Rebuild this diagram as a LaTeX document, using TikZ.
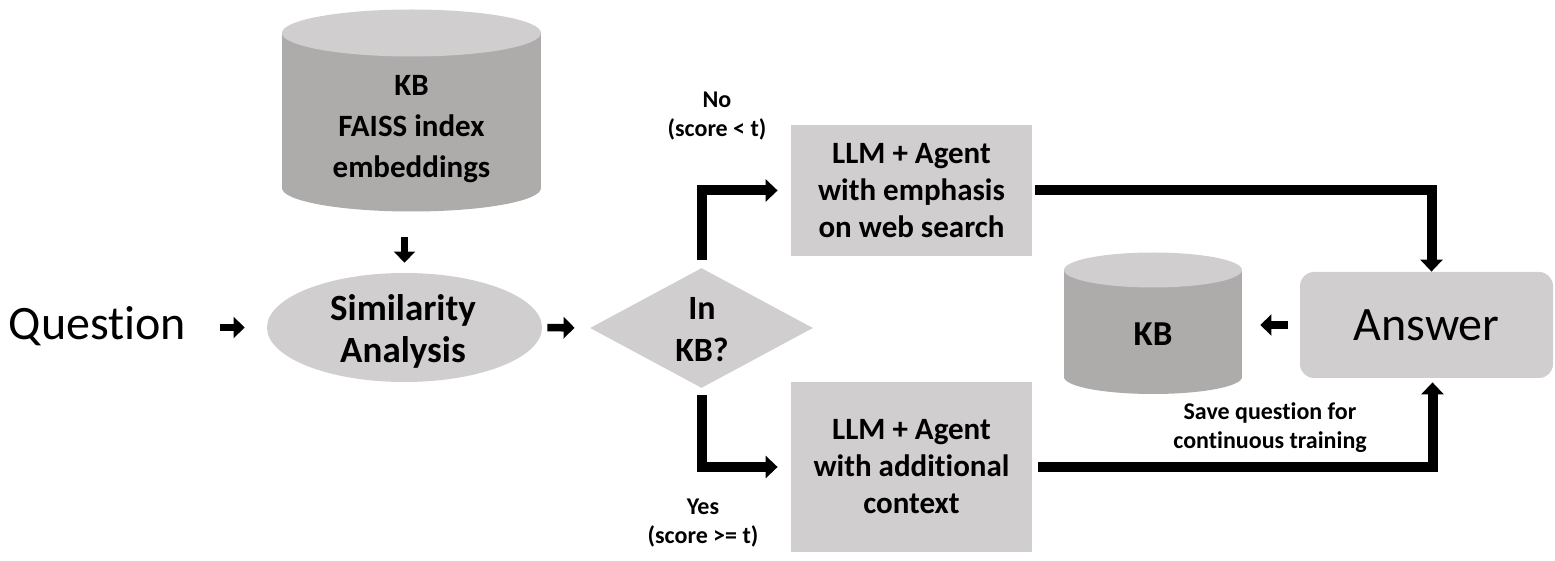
\documentclass[tikz,border=0pt]{standalone}
\usepackage{fontspec}
\setmainfont{Carlito}[Ligatures=NoCommon]
\usetikzlibrary{arrows.meta,shapes.geometric,calc}
\definecolor{boxgray}{RGB}{208,206,206}
\definecolor{cylside}{RGB}{174,171,171}
\begin{document}
\begin{tikzpicture}[x=0.5pt,y=-0.5pt,
  boxs/.style={fill=boxgray, inner sep=0},
  txt/.style={inner sep=0, align=center, font=\bfseries\fontsize{15.5}{18.5}\selectfont},
  conn/.style={line width=5pt, line join=miter, -{Triangle[width=11pt,length=6pt]}},
  blk/.style={line width=3.8pt, -{Triangle[width=10.5pt,length=5.5pt]}},
  lbl/.style={inner sep=0, align=center, font=\bfseries\fontsize{12}{14.5}\selectfont},
  big/.style={inner sep=0, font=\fontsize{24}{28}\selectfont}]

\useasboundingbox (0,0) rectangle (1555,561);

% knowledge base cylinder (top)
\fill[cylside] (411.5,188) ellipse [x radius=129.5, y radius=23.5];
\fill[cylside] (282,33) rectangle (541,188);
\fill[boxgray] (411.5,33) ellipse [x radius=129.5, y radius=23.5];
\node[inner sep=0, minimum width=129.5pt, minimum height=101.5pt] (kb1) at (411.5,109.5) {};
\node[txt, font=\bfseries\fontsize{15.5}{20.5}\selectfont] (kb1t) at (411.5,129) {KB\\FAISS index\\embeddings};

% question
\node[big] (q) at (97.5,326) {Question};

% similarity ellipse
\node[ellipse, fill=boxgray, inner sep=0, minimum width=137.5pt, minimum height=54.5pt] (sim) at (404.5,327.5) {};
\node[txt, font=\bfseries\fontsize{18.5}{21}\selectfont] (simt) at (403,331) {Similarity\\Analysis};

% decision
\node[diamond, fill=boxgray, inner sep=0, minimum width=111.5pt, minimum height=60pt] (dec) at (701.5,328) {};
\node[txt, font=\bfseries\fontsize{17}{21}\selectfont] (dect) at (702,330) {In\\KB?};

% LLM boxes
\node[boxs, txt, minimum width=120.5pt, minimum height=65.5pt] (b1) at (911.5,190.5) {LLM + Agent\\with emphasis\\on web search};
\node[boxs, txt, minimum width=120.5pt, minimum height=85pt] (b2) at (911.5,467) {LLM + Agent\\with additional\\context};

% answer
\node[fill=boxgray, rounded corners=7pt, inner sep=0, minimum width=126.5pt, minimum height=53pt, font=\fontsize{24}{28}\selectfont] (ans) at (1426.5,325) {Answer};

% knowledge base cylinder (right)
\fill[cylside] (1153,377) ellipse [x radius=89, y radius=17];
\fill[cylside] (1064,270) rectangle (1242,377);
\fill[boxgray] (1153,270) ellipse [x radius=89, y radius=17.5];
\node[inner sep=0, minimum width=89pt, minimum height=71pt] (kb2) at (1153,323) {};
\node[txt, font=\bfseries\fontsize{17.5}{21}\selectfont] (kb2t) at (1153,334) {KB};

% connectors
\draw[blk, shorten <=16.5pt, shorten >=11pt] (q.east |- sim.west) -- (sim.west);
\draw[blk, shorten <=2.5pt, shorten >=7.5pt] (sim.east) -- (dec.west);
\draw[blk, shorten <=13pt, shorten >=5pt] (sim.north |- kb1.south) -- (sim.north);
\draw[conn, shorten <=4pt, shorten >=6.5pt] (dec.north) |- (b1.west);
\draw[conn, shorten <=3.5pt, shorten >=6.5pt] (dec.south) |- (b2.west);
\draw[conn, shorten <=1.5pt] (b1.east) -| ([xshift=2.5pt]ans.north);
\draw[conn, shorten <=3pt, shorten >=2pt] (b2.east) -| ([xshift=3pt]ans.south);
\draw[blk, shorten <=6pt, shorten >=9pt] (ans.west) -- (kb2.east |- ans.west);

% labels
\node[lbl] (no) at (717,116) {No\\(score < t)};
\node[lbl] (yes) at (703,523) {Yes\\(score >= t)};
\node[lbl] (save) at (1270,428) {Save question for\\continuous training};
\end{tikzpicture}
\end{document}
